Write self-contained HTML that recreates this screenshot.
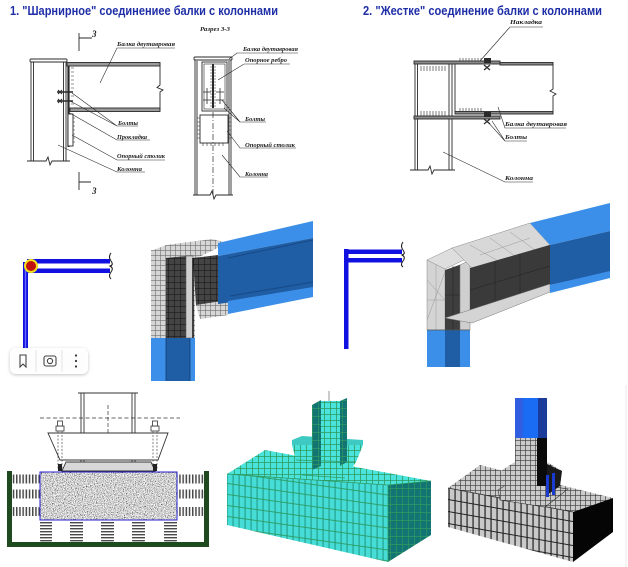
<!DOCTYPE html>
<html><head><meta charset="utf-8"><style>
html,body{margin:0;padding:0;background:#fff;}
svg{display:block;}
.t{font-family:"Liberation Sans",sans-serif;font-weight:bold;font-size:12.5px;fill:#1e2ea6;}
.l{font-family:"Liberation Serif",serif;font-style:italic;font-weight:bold;font-size:6.5px;fill:#222;}
</style></head><body>
<svg width="628" height="567" viewBox="0 0 628 567" xmlns="http://www.w3.org/2000/svg">
<defs>
<pattern id="gL" width="5" height="5" patternUnits="userSpaceOnUse"><rect width="5" height="5" fill="#d6d6d6"/><path d="M0 0.3H5M0.3 0V5" stroke="#707070" stroke-width="0.6"/></pattern>
<pattern id="gD" width="6" height="6" patternUnits="userSpaceOnUse"><rect width="6" height="6" fill="#444"/><path d="M0 0.3H6M0.3 0V6" stroke="#1a1a1a" stroke-width="0.6"/></pattern>
<pattern id="gC" width="6" height="6" patternUnits="userSpaceOnUse"><rect width="6" height="6" fill="#4ae4dd"/><path d="M0 0.4H6M0.4 0V6" stroke="#2e9a5e" stroke-width="0.8"/></pattern>
<pattern id="gCD" width="6" height="8" patternUnits="userSpaceOnUse"><rect width="6" height="8" fill="#137474"/><path d="M0 0.4H6M0.4 0V8" stroke="#2e9a5e" stroke-width="0.7"/></pattern>
<pattern id="fC" width="6" height="11" patternUnits="userSpaceOnUse" patternTransform="skewY(8)"><rect width="6" height="11" fill="#46ddd6"/><rect x="4.3" width="1.7" height="11" fill="#2fb3a6"/><path d="M0 0.5H6" stroke="#2e9a5e" stroke-width="0.9"/></pattern>
<pattern id="gG" width="5" height="5" patternUnits="userSpaceOnUse"><rect width="5" height="5" fill="#cbcbcb"/><path d="M0 0.3H5M0.3 0V5" stroke="#3a3a3a" stroke-width="0.7"/></pattern>
<pattern id="fG" width="6" height="12" patternUnits="userSpaceOnUse" patternTransform="skewY(10)"><rect width="6" height="12" fill="#c9c9c9"/><rect x="4.2" width="1.8" height="12" fill="#5a5a5a"/><path d="M0 0.5H6" stroke="#222" stroke-width="1"/></pattern>
<pattern id="sV" width="3.2" height="10" patternUnits="userSpaceOnUse"><rect width="3.2" height="10" fill="#fff"/><rect width="1.5" height="10" fill="#4a4a4a"/></pattern>
<pattern id="sH" width="10" height="3" patternUnits="userSpaceOnUse"><rect width="10" height="3" fill="#fff"/><rect width="10" height="1.4" fill="#4a4a4a"/></pattern>
<filter id="speck" x="0" y="0" width="100%" height="100%">
<feTurbulence type="fractalNoise" baseFrequency="1.1" numOctaves="1" seed="4" result="n"/>
<feColorMatrix in="n" type="matrix" values="1 0 0 0 0  1 0 0 0 0  1 0 0 0 0  0 0 0 0 1" result="g"/>
<feComponentTransfer in="g" result="c"><feFuncR type="linear" slope="2.4" intercept="-0.55"/><feFuncG type="linear" slope="2.4" intercept="-0.55"/><feFuncB type="linear" slope="2.4" intercept="-0.55"/></feComponentTransfer>
<feComposite in="c" in2="SourceGraphic" operator="in"/>
</filter>
<filter id="sh" x="-20%" y="-30%" width="140%" height="170%"><feDropShadow dx="0" dy="1" stdDeviation="1.5" flood-color="#000" flood-opacity="0.25"/></filter>
</defs>

<!-- Titles -->
<text class="t" x="10" y="15" textLength="268" lengthAdjust="spacingAndGlyphs">1. "Шарнирное" соединениее балки с колоннами</text>
<text class="t" x="363" y="15" textLength="239" lengthAdjust="spacingAndGlyphs">2. "Жестке" соединение балки с колоннами</text>

<!-- ===== Drawing 1: hinged ===== -->
<g stroke="#2a2a2a" fill="none" stroke-width="0.9">
<path d="M79 33V51M79 38H92M79 172V190M79 182H91"/>
<path d="M31 61V161M33.5 62V161M63.5 62V161M66 61V161"/>
<rect x="30" y="59" width="37" height="3" rx="1" fill="#fff"/>
<path d="M27 161H46L48 157L50 165L52 161H70"/>
<path d="M68.5 63V147" stroke-width="2.2"/>
<rect x="67" y="62.5" width="93" height="3.5" fill="#9a9a9a"/>
<rect x="70" y="108" width="90" height="3.5" fill="#9a9a9a"/>
<path d="M160 63V85L157 87.5L163 90L160 92V111"/>
<path d="M71 68H74M71 72H74M71 76H74M71 80H74M71 84H74M71 88H74M71 96H74M71 104H74" stroke-width="0.6"/>
<path d="M57 92H73M57 101H73" stroke-width="1.4"/>
<path d="M58 90L62 94M58 94L62 90M58 99L62 103M58 103L62 99" stroke-width="1"/>
<rect x="68" y="114" width="5" height="32" fill="#fff"/>
<path d="M73 118H75M73 122H75M73 126H75M73 130H75M73 134H75M73 138H75M73 142H75" stroke-width="0.6"/>
<!-- leaders -->
<path d="M100 83L117 48H175M72 93L117 126M70 101L117 126H138M68 112L117 140H150M72 135L117 160H165M58 145L117 172H145" stroke-width="0.6"/>
</g>
<text class="l" x="92" y="37" style="font-size:9px">3</text>
<text class="l" x="92" y="194" style="font-size:9px">3</text>
<text class="l" x="117" y="46" textLength="58" lengthAdjust="spacingAndGlyphs">Балка двутавровая</text>
<text class="l" x="118" y="125" textLength="20" lengthAdjust="spacingAndGlyphs">Болты</text>
<text class="l" x="117" y="139" textLength="30" lengthAdjust="spacingAndGlyphs">Прокладка</text>
<text class="l" x="117" y="158" textLength="48" lengthAdjust="spacingAndGlyphs">Опорный столик</text>
<text class="l" x="117" y="171" textLength="25" lengthAdjust="spacingAndGlyphs">Колонна</text>

<!-- ===== Section 3-3 ===== -->
<text class="l" x="200" y="31" textLength="30" lengthAdjust="spacingAndGlyphs">Разрез 3-3</text>
<g stroke="#2a2a2a" fill="none" stroke-width="0.9">
<path d="M195 60V195M197 61V195M229 61V195M231 60V195"/>
<rect x="194" y="57" width="38" height="3" rx="1" fill="#fff"/>
<path d="M193 195H210L212 191L214 199L216 195H233"/>
<rect x="202" y="62" width="25" height="49"/>
<rect x="204" y="64" width="21" height="45" stroke-width="0.6"/>
<path d="M213 64V108" stroke-width="2"/>
<path d="M210 67H216M210 70H216M210 73H216M210 76H216M210 79H216M210 82H216M210 85H216M210 88H216M210 91H216M210 94H216M210 97H216M210 100H216M210 103H216M210 106H216" stroke-width="0.5"/>
<path d="M203 92H211M207 88V96M216 92H224M220 88V96M203 100H211M207 96V104M216 100H224M220 96V104" stroke-width="0.8"/>
<rect x="200" y="115" width="28" height="28" fill="#fff"/>
<path d="M197 118H200M197 122H200M197 126H200M197 130H200M197 134H200M197 138H200M228 118H231M228 122H231M228 126H231M228 130H231M228 134H231M228 138H231M203 143V146M207 143V146M211 143V146M215 143V146M219 143V146M223 143V146" stroke-width="0.6"/>
<path d="M213 112V195" stroke-dasharray="6 2 1 2" stroke-width="0.7"/>
<path d="M229 59L237 53H298M218 80L244 64H290M222 100L240 122M224 108L240 122H266M227 131L240 148H296M222 155L240 177H268" stroke-width="0.6"/>
</g>
<text class="l" x="243" y="51" textLength="55" lengthAdjust="spacingAndGlyphs">Балка двутавровая</text>
<text class="l" x="245" y="62" textLength="42" lengthAdjust="spacingAndGlyphs">Опорное ребро</text>
<text class="l" x="245" y="121" textLength="20" lengthAdjust="spacingAndGlyphs">Болты</text>
<text class="l" x="245" y="147" textLength="50" lengthAdjust="spacingAndGlyphs">Опорный столик</text>
<text class="l" x="245" y="176" textLength="23" lengthAdjust="spacingAndGlyphs">Колонна</text>

<!-- ===== Drawing 2: rigid ===== -->
<g stroke="#2a2a2a" fill="none" stroke-width="0.9">
<path d="M415 62V170M417.5 64V170M449 64V170M452 62V170"/>
<rect x="414" y="61" width="86" height="3" fill="#8a8a8a"/>
<rect x="500" y="62.5" width="53" height="2.5" fill="#8a8a8a"/>
<rect x="455" y="111.5" width="98" height="2.5" fill="#8a8a8a"/>
<rect x="414" y="116" width="86" height="3" fill="#8a8a8a"/>
<path d="M455 64V112"/>
<path d="M553 63V89L550 91L556 94L553 96V114"/>
<path d="M421 66V71M424 66V71M427 66V71M430 66V71M433 66V71M436 66V71M439 66V71M442 66V71M445 66V71M421 111V116M424 111V116M427 111V116M430 111V116M433 111V116M436 111V116M439 111V116M442 111V116M445 111V116M460 58V61M463 58V61M466 58V61M469 58V61M472 58V61M475 58V61M478 58V61M481 58V61M460 108V111M463 108V111M466 108V111M469 108V111M472 108V111M475 108V111M478 108V111M481 108V111" stroke-width="0.6"/>
<path d="M410 170H428L430 166L432 174L434 170H455"/>
<path d="M480 61L510 27H543M498 107L505 128H566M487 121L505 141M492 121L505 141H527M443 152L505 182H533" stroke-width="0.6"/>
</g>
<g fill="#2a2a2a">
<rect x="484" y="58" width="7" height="5"/><path d="M484 65L490 70M490 65L484 70" stroke="#2a2a2a" stroke-width="1.2"/>
<rect x="484" y="112" width="7" height="5"/><path d="M484 119L490 124M490 119L484 124" stroke="#2a2a2a" stroke-width="1.2"/>
</g>
<text class="l" x="510" y="24" textLength="32" lengthAdjust="spacingAndGlyphs">Накладка</text>
<text class="l" x="505" y="126" textLength="62" lengthAdjust="spacingAndGlyphs">Балка двутавровая</text>
<text class="l" x="505" y="139" textLength="22" lengthAdjust="spacingAndGlyphs">Болты</text>
<text class="l" x="505" y="180" textLength="28" lengthAdjust="spacingAndGlyphs">Колонна</text>

<!-- ===== Middle left: frame scheme ===== -->
<rect x="23" y="262" width="5" height="87" fill="#1010e0"/>
<rect x="24.8" y="268" width="1.4" height="80" fill="#6a6aff"/>
<rect x="27" y="259" width="83" height="4.5" fill="#1010e0"/>
<rect x="27" y="268.5" width="83" height="4.5" fill="#1010e0"/>
<path d="M111 253Q108 257 111 261Q114 265 110 266Q114 268 111 272Q108 276 111 279" stroke="#111" stroke-width="1" fill="none"/>
<circle cx="31" cy="266" r="7" fill="#f4e21a"/>
<circle cx="31" cy="266" r="5" fill="#c01010"/>

<!-- 3D A (hinged) -->
<rect x="151" y="250" width="44" height="88" fill="url(#gL)"/>
<polygon points="151,251 166,245 212,239 228,243 197,258 151,257" fill="url(#gL)"/>
<polygon points="166,258 186,256 186,338 166,338" fill="url(#gD)"/>
<rect x="186" y="256" width="7" height="82" fill="#cfcfcf" stroke="#555" stroke-width="0.5"/>
<polygon points="193,258 218,255 218,303 196,306" fill="url(#gD)"/>
<path d="M193 258V345" stroke="#111" stroke-width="1.5"/>
<polygon points="196,305 228,300 228,315 200,319" fill="url(#gL)"/>
<polygon points="218,243 313,221 313,238 218,256" fill="#3c8fe8"/>
<polygon points="218,256 313,238 313,291 218,304" fill="#1f5da4"/>
<polygon points="228,301 313,287 313,297 228,314" fill="#3c8fe8"/>
<path d="M228 258L313 240M230 296L313 282" stroke="#174a86" stroke-width="1"/>
<rect x="151" y="338" width="44" height="43" fill="#3c8fe8"/>
<rect x="166" y="338" width="24" height="43" fill="#1f5da4"/>
<path d="M166 338V381M190 338V381" stroke="#123c70" stroke-width="0.8"/>

<!-- toolbar overlay -->
<g filter="url(#sh)">
<rect x="10" y="348" width="78" height="26" rx="6" fill="#fff" fill-opacity="0.94"/>
</g>
<path d="M36 350V372M62 350V372" stroke="#e2e2e2" stroke-width="1"/>
<path d="M20 355H26V367L23 364L20 367Z" fill="none" stroke="#444" stroke-width="1.1"/>
<rect x="44" y="356" width="12" height="10" rx="2" fill="none" stroke="#444" stroke-width="1.1"/>
<circle cx="50" cy="361" r="2.6" fill="none" stroke="#444" stroke-width="1.1"/>
<circle cx="76" cy="355.5" r="1.1" fill="#333"/><circle cx="76" cy="361" r="1.1" fill="#333"/><circle cx="76" cy="366.5" r="1.1" fill="#333"/>

<!-- ===== Middle right: frame scheme ===== -->
<rect x="344" y="249" width="4.5" height="100" fill="#1010e0"/>
<rect x="346" y="249.5" width="56" height="4.5" fill="#1010e0"/>
<rect x="346" y="258" width="56" height="4.5" fill="#1010e0"/>
<path d="M403 242Q400 246 403 250Q406 254 402 255Q406 257 403 261Q400 265 403 267" stroke="#111" stroke-width="1" fill="none"/>

<!-- 3D B (rigid) -->
<rect x="427" y="260" width="18" height="70" fill="#d4d4d4" stroke="#888" stroke-width="0.5"/>
<path d="M427 280L445 300M427 300H445M436 260V330M445 272L427 320" stroke="#9a9a9a" stroke-width="0.5"/>
<polygon points="427,260 452,248 470,257 445,269" fill="#dedede" stroke="#888" stroke-width="0.5"/>
<polygon points="445,270 462,264 462,330 445,330" fill="#3e3e3e"/>
<path d="M445 295H462M453 266V330" stroke="#222" stroke-width="0.5"/>
<polygon points="460,265 470,260 470,330 460,330" fill="#cfcfcf" stroke="#777" stroke-width="0.5"/>
<polygon points="452,248 530,223 550,245 472,268" fill="#d8d8d8" stroke="#888" stroke-width="0.5"/>
<path d="M470 245L500 262M490 238L515 256M510 232L535 250M480 255L530 238" stroke="#9a9a9a" stroke-width="0.5"/>
<polygon points="470,268 550,245 550,284 470,312" fill="#3a3a3a"/>
<path d="M495 262V303M520 254V295M470 290L550 266" stroke="#222" stroke-width="0.5"/>
<polygon points="445,318 550,284 550,292 472,323" fill="#d4d4d4" stroke="#777" stroke-width="0.5"/>
<polygon points="530,223 610,203 610,231 550,245" fill="#3c8fe8"/>
<polygon points="550,245 610,231 610,272 550,285" fill="#1f5da4"/>
<polygon points="550,285 610,271 610,278 550,293" fill="#3c8fe8"/>
<rect x="427" y="330" width="43" height="37" fill="#3c8fe8"/>
<rect x="445" y="330" width="15" height="37" fill="#1f5da4"/>
<path d="M427 330H470" stroke="#555" stroke-width="0.8"/>

<!-- ===== Bottom left: foundation on springs ===== -->
<path d="M9.5 471V544.5H206.5V471" fill="none" stroke="#1f4a1f" stroke-width="5"/>
<g>
<rect x="12" y="474.5" width="28" height="9" rx="2" fill="url(#sV)"/>
<rect x="12" y="489.5" width="28" height="9" rx="2" fill="url(#sV)"/>
<rect x="12" y="507" width="28" height="9" rx="2" fill="url(#sV)"/>
<rect x="177" y="474.5" width="27" height="9" rx="2" fill="url(#sV)"/>
<rect x="177" y="489.5" width="27" height="9" rx="2" fill="url(#sV)"/>
<rect x="177" y="507" width="27" height="9" rx="2" fill="url(#sV)"/>
<rect x="40" y="520" width="12" height="22" rx="2" fill="url(#sH)"/>
<rect x="70" y="520" width="13" height="22" rx="2" fill="url(#sH)"/>
<rect x="101" y="520" width="13" height="22" rx="2" fill="url(#sH)"/>
<rect x="132" y="520" width="13" height="22" rx="2" fill="url(#sH)"/>
<rect x="164" y="520" width="13" height="22" rx="2" fill="url(#sH)"/>
</g>
<rect x="40" y="472" width="137" height="48" fill="#999" filter="url(#speck)"/>
<rect x="40" y="472" width="137" height="48" fill="none" stroke="#2020c8" stroke-width="1"/>
<g stroke="#333" fill="none" stroke-width="0.9">
<path d="M78 393H138M81 393V462M84 393V462M132 393V462M135 393V462"/>
<path d="M40 418H180" stroke-dasharray="4 2.5" stroke-width="0.8"/>
<path d="M108 405V460" stroke-dasharray="4 2" stroke-width="0.7"/>
<path d="M48 433H168L158 460H60Z" fill="#fff"/>
<path d="M58 428V470M62 428V470M153 428V470M157 428V470" stroke-dasharray="2 1.5" stroke-width="0.6"/>
<path d="M66 462H151L155 471H62Z" fill="#d8d8d8"/>
</g>
<g fill="#fff" stroke="#333" stroke-width="0.8">
<rect x="56" y="426" width="8" height="5"/><rect x="57.5" y="421" width="5" height="5"/>
<rect x="151" y="426" width="8" height="5"/><rect x="152.5" y="421" width="5" height="5"/>
</g>
<rect x="58" y="464" width="4" height="7" fill="#222"/><rect x="153" y="464" width="4" height="7" fill="#222"/>

<!-- ===== Bottom middle: cyan FE model ===== -->
<polygon points="227,474 265,450 431,481 388,485" fill="url(#gC)"/>
<polygon points="227,474 388,485 388,562 227,525" fill="url(#fC)"/>
<polygon points="388,485 431,481 431,535 388,562" fill="url(#gCD)"/>
<path d="M227 474L388 485L431 481M388 485V562" stroke="#2e9a5e" stroke-width="0.8" fill="none"/>
<path d="M329 391V403" stroke="#999" stroke-width="1"/>
<polygon points="292,445 363,445 356,462 345,478 302,475 296,460" fill="url(#gC)"/>
<polygon points="292,440 302,436 363,440 363,445 292,445" fill="#3ec9c2"/>
<polygon points="312,405 321,400 321,466 312,470" fill="url(#gCD)"/>
<rect x="321" y="401" width="19" height="64" fill="url(#gC)"/>
<polygon points="340,401 347,398 347,462 340,466" fill="url(#gCD)"/>
<path d="M296 460L356 462M302 475L345 478" stroke="#2e9a5e" stroke-width="0.8"/>

<!-- ===== Bottom right: gray FE model ===== -->
<polygon points="448,488 480,465 613,498 573,512" fill="url(#gG)"/>
<polygon points="448,488 573,512 573,562 448,527" fill="url(#fG)"/>
<polygon points="573,512 613,498 613,532 573,562" fill="#050505"/>
<path d="M448 488L573 512" stroke="#333" stroke-width="0.8"/>
<polygon points="498,490 512,481 568,489 545,507 500,500" fill="url(#gG)" stroke="#333" stroke-width="0.6"/>
<polygon points="502,470 515,462 547,462 562,471 560,486 540,498 505,490" fill="url(#gG)"/>
<polygon points="547,464 562,471 560,486 547,495" fill="#1a1a1a"/>
<rect x="515" y="438" width="22" height="48" fill="url(#gG)"/>
<rect x="537" y="438" width="10" height="48" fill="#0a0a0a"/>
<rect x="515" y="398" width="8" height="40" fill="#2f5fe0"/>
<rect x="523" y="398" width="15" height="40" fill="#1a6cf5"/>
<rect x="538" y="398" width="9" height="40" fill="#1c3c9c"/>
<rect x="546" y="475" width="3" height="22" fill="#1a3ad0"/>
<rect x="552" y="473" width="3" height="22" fill="#1a3ad0"/>
<path d="M626 385V567" stroke="#e8e8e8" stroke-width="1"/>
</svg>
</body></html>
